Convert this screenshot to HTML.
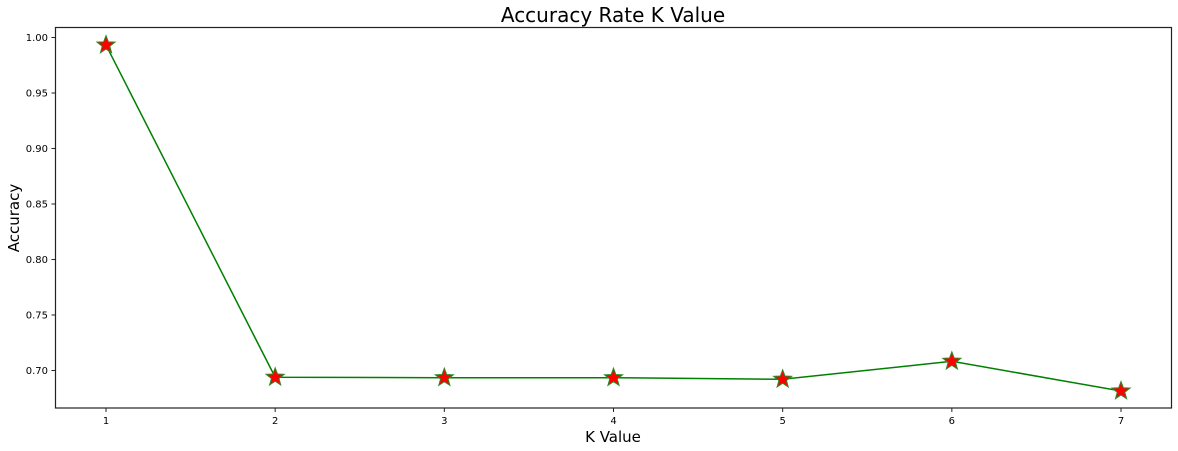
<!DOCTYPE html>
<html><head><meta charset="utf-8"><style>
html,body{margin:0;padding:0;background:#fff;}
svg{display:block;font-family:"DejaVu Sans","Liberation Sans",sans-serif;}
</style></head><body>
<svg id="chart" width="1178" height="451">
<rect x="0" y="0" width="1178" height="451" fill="#fff"/>
<text x="613" y="22" font-size="20" text-anchor="middle" fill="#000">Accuracy Rate K Value</text>
<text x="613" y="442" font-size="15" text-anchor="middle" fill="#000">K Value</text>
<text transform="translate(19,218) rotate(-90)" font-size="15" text-anchor="middle" fill="#000">Accuracy</text>
<g id="ticks"></g>
<g id="series"></g>
<rect x="55.5" y="27.5" width="1116" height="380.5" fill="none" stroke="#222" stroke-width="1.2"/>
</svg>
<script>
const kValues = [1,2,3,4,5,6,7];
const accuracy = [0.9932,0.6939,0.6935,0.6935,0.6921,0.7083,0.6815];
const yTicks = [0.70,0.75,0.80,0.85,0.90,0.95,1.00];
const xTicks = [1,2,3,4,5,6,7];

const NS="http://www.w3.org/2000/svg";
const xs=k=>106+(k-1)*169.17;
const ys=v=>370.5-(v-0.70)*1110;
const tg=document.getElementById('ticks');
const sg=document.getElementById('series');
function mk(t,a,p){const e=document.createElementNS(NS,t);for(const k in a)e.setAttribute(k,a[k]);p.appendChild(e);return e;}
yTicks.forEach(v=>{
  const y=ys(v);
  const l=mk('line',{x1:51.5,x2:55.5,y1:y,y2:y,stroke:'#222'},tg);
  
  
  const t=mk('text',{x:48,y:y+3.5,'font-size':10,'text-anchor':'end',fill:'#000'},tg);
  t.textContent=v.toFixed(2);
  
  
});
xTicks.forEach(k=>{
  const x=xs(k);
  const l=mk('line',{x1:x,x2:x,y1:408,y2:412,stroke:'#222'},tg);
  
  
  const t=mk('text',{x:x,y:424,'font-size':10,'text-anchor':'middle',fill:'#000'},tg);
  t.textContent=k;
  
  
});
const pts=kValues.map((k,i)=>xs(k)+','+ys(accuracy[i])).join(' ');
const pl=mk('polyline',{points:pts,fill:'none',stroke:'#008000','stroke-width':1.5},sg);


function star(cx,cy,R){const r=R*0.42;let p=[];for(let i=0;i<10;i++){const a=-Math.PI/2+i*Math.PI/5;const rr=i%2?r:R;p.push((cx+rr*Math.cos(a)).toFixed(2)+','+(cy+rr*Math.sin(a)).toFixed(2));}return p.join(' ');}
kValues.forEach((k,i)=>{
  const s=mk('polygon',{points:star(xs(k),ys(accuracy[i]),9.5),fill:'#ff0000',stroke:'#2a8a2a','stroke-width':1},sg);
  
  
});
</script>
</body></html>
